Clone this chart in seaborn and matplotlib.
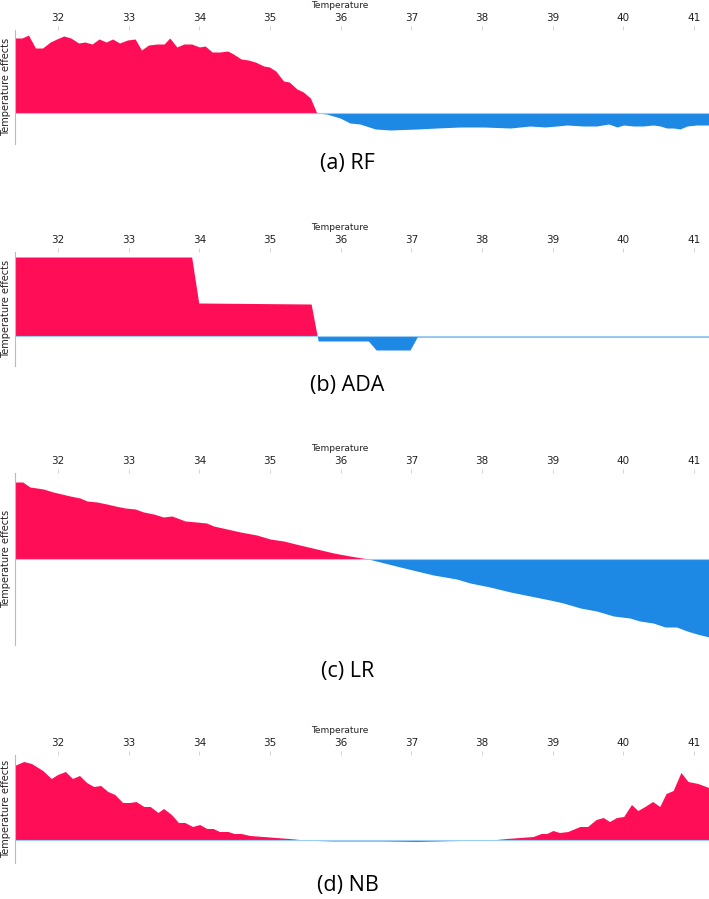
import matplotlib
matplotlib.use("Agg")
import matplotlib.pyplot as plt
import seaborn as sns
import numpy as np

# Colores tipo SHAP
ROJO = "#FF0D57"
AZUL = "#1E88E5"

# (a) RF
rf_temp = [31.39, 31.49, 31.58, 31.68, 31.78, 31.89, 31.98, 32.08, 32.18, 32.29,
           32.38, 32.48, 32.58, 32.68, 32.77, 32.87, 32.98, 33.09, 33.18, 33.28,
           33.40, 33.50, 33.58, 33.68, 33.78, 33.89, 34.00, 34.08, 34.18, 34.29,
           34.40, 34.48, 34.59, 34.69, 34.79, 34.91, 34.99, 35.08, 35.19, 35.27,
           35.38, 35.47, 35.57, 35.66, 35.80, 35.99, 36.13, 36.27, 36.49, 36.70,
           37.08, 37.36, 37.69, 38.02, 38.40, 38.68, 38.89, 39.06, 39.20, 39.43,
           39.62, 39.79, 39.91, 40.00, 40.14, 40.28, 40.42, 40.52, 40.61, 40.71,
           40.80, 40.90, 41.04, 41.21]
rf_efecto = [0.75, 0.75, 0.78, 0.65, 0.65, 0.71, 0.74, 0.77, 0.75, 0.70,
             0.71, 0.69, 0.74, 0.71, 0.74, 0.70, 0.73, 0.74, 0.63, 0.68,
             0.69, 0.69, 0.75, 0.66, 0.69, 0.69, 0.66, 0.67, 0.61, 0.61,
             0.62, 0.59, 0.54, 0.53, 0.51, 0.47, 0.46, 0.42, 0.32, 0.31,
             0.24, 0.21, 0.15, 0.00, -0.01, -0.05, -0.10, -0.11, -0.16, -0.17,
             -0.16, -0.15, -0.14, -0.14, -0.15, -0.13, -0.14, -0.13, -0.12, -0.13,
             -0.13, -0.11, -0.14, -0.12, -0.13, -0.13, -0.12, -0.13, -0.15, -0.15,
             -0.16, -0.13, -0.12, -0.12]

# (b) ADA
ada_temp = [31.39, 33.89, 33.99, 35.58, 35.68, 36.39, 36.50, 36.98, 37.08, 41.21]
ada_efecto = [0.79, 0.79, 0.33, 0.32, -0.05, -0.05, -0.14, -0.14, -0.01, -0.01]

# (c) LR
lr_temp = [31.39, 31.50, 31.60, 31.70, 31.79, 31.93, 32.05, 32.17, 32.31, 32.41,
           32.55, 32.69, 32.81, 32.95, 33.09, 33.21, 33.35, 33.49, 33.61, 33.80,
           33.96, 34.10, 34.20, 34.39, 34.58, 34.81, 35.00, 35.19, 35.42, 35.66,
           35.90, 36.13, 36.39, 36.84, 37.31, 37.64, 37.83, 38.11, 38.40, 38.68,
           38.96, 39.15, 39.39, 39.62, 39.86, 40.09, 40.23, 40.42, 40.59, 40.75,
           40.90, 41.04, 41.21]
lr_efecto = [0.77, 0.77, 0.72, 0.71, 0.70, 0.67, 0.65, 0.63, 0.61, 0.58,
             0.57, 0.55, 0.53, 0.51, 0.50, 0.47, 0.45, 0.42, 0.43, 0.38,
             0.37, 0.36, 0.33, 0.30, 0.27, 0.24, 0.20, 0.18, 0.14, 0.10,
             0.06, 0.03, 0.00, -0.08, -0.16, -0.20, -0.24, -0.28, -0.33, -0.37,
             -0.41, -0.44, -0.49, -0.52, -0.57, -0.59, -0.62, -0.64, -0.68, -0.68,
             -0.72, -0.75, -0.78]

# (d) NB
nb_temp = [31.39, 31.52, 31.63, 31.79, 31.91, 32.00, 32.11, 32.21, 32.31, 32.41,
           32.51, 32.61, 32.71, 32.81, 32.92, 33.02, 33.11, 33.22, 33.31, 33.42,
           33.50, 33.61, 33.71, 33.80, 33.91, 34.01, 34.11, 34.20, 34.29, 34.41,
           34.50, 34.60, 34.72, 34.91, 35.09, 35.28, 35.42, 35.89, 36.60, 37.08,
           37.55, 37.92, 38.21, 38.35, 38.54, 38.73, 38.84, 38.92, 39.01, 39.10,
           39.22, 39.39, 39.50, 39.62, 39.72, 39.81, 39.91, 40.01, 40.12, 40.21,
           40.31, 40.42, 40.52, 40.61, 40.71, 40.82, 40.92, 41.06, 41.21]
nb_efecto = [0.74, 0.78, 0.76, 0.69, 0.61, 0.65, 0.68, 0.61, 0.64, 0.57,
             0.53, 0.54, 0.48, 0.45, 0.37, 0.37, 0.38, 0.33, 0.33, 0.27,
             0.31, 0.25, 0.17, 0.17, 0.13, 0.15, 0.11, 0.11, 0.08, 0.08,
             0.06, 0.06, 0.04, 0.03, 0.02, 0.01, 0.00, -0.01, -0.01, -0.015,
             -0.007, -0.003, 0.00, 0.01, 0.02, 0.03, 0.06, 0.06, 0.09, 0.07,
             0.08, 0.13, 0.13, 0.20, 0.22, 0.18, 0.22, 0.23, 0.35, 0.29,
             0.33, 0.38, 0.33, 0.46, 0.49, 0.67, 0.58, 0.56, 0.52]

paneles = [
    ("(a) RF", rf_temp, rf_efecto, (-0.31, 0.83)),
    ("(b) ADA", ada_temp, ada_efecto, (-0.30, 0.84)),
    ("(c) LR", lr_temp, lr_efecto, (-0.86, 0.86)),
    ("(d) NB", nb_temp, nb_efecto, (-0.23, 0.85)),
]

# posiciones de los ejes en pixeles (arriba, abajo) y de los titulos
cajas = [(30, 144), (252, 366), (473, 645), (755, 863)]
titulos_y = [164, 386, 672, 885]

sns.set_style("white")
plt.rcParams["font.family"] = ["DejaVu Sans"]

W, H = 709, 899
fig = plt.figure(figsize=(W / 100, H / 100), dpi=100)

for (titulo, temp, efecto, ylim), (y0, y1), ty in zip(paneles, cajas, titulos_y):
    ax = fig.add_axes([15 / W, 1 - y1 / H, 1 - 15 / W, (y1 - y0) / H])
    t = np.array(temp)
    e = np.array(efecto)

    # Relleno positivo y negativo
    ax.fill_between(t, 0, e, where=e >= 0, interpolate=True, color=ROJO, lw=0)
    ax.fill_between(t, 0, e, where=e <= 0, interpolate=True, color=AZUL, lw=0)
    sns.lineplot(x=[temp[0], temp[-1]], y=[0, 0], ax=ax, color="#9ecbf2", lw=0.8)

    ax.set_xlim(31.39, 41.21)
    ax.set_ylim(*ylim)

    # Eje x arriba
    ax.xaxis.tick_top()
    ax.xaxis.set_label_position("top")
    ax.set_xticks(range(32, 42))
    ax.tick_params(axis="x", length=3, width=0.6, color="#cccccc",
                   labelsize=7.5, labelcolor="#222222", pad=2,
                   direction="out", top=True, bottom=False)
    ax.set_xlabel("Temperature", fontsize=6.5, color="#222222")
    ax.xaxis.set_label_coords(0.468, 1.0 + 22 / (y1 - y0))
    ax.set_yticks([])
    ax.set_ylabel("Temperature effects", fontsize=7, labelpad=3, color="#222222")

    sns.despine(ax=ax, top=True, right=True, bottom=True, left=False)
    ax.spines["left"].set_color("#bbbbbb")
    ax.spines["left"].set_linewidth(0.8)

    fig.text(0.49, 1 - ty / H, titulo, ha="center", va="center",
             fontsize=15.5, color="black", family=["Open Sans", "DejaVu Sans"])

plt.savefig("out.png", dpi=100)
plt.close()
